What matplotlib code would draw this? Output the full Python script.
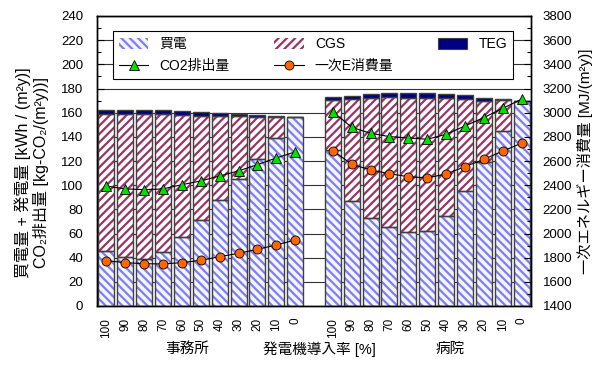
import matplotlib
matplotlib.use("Agg")
import matplotlib.pyplot as plt
import numpy as np
from matplotlib.ticker import MultipleLocator
from matplotlib.patches import Patch
from matplotlib.lines import Line2D
import matplotlib.transforms as mtransforms

plt.rcParams['font.family'] = ['Liberation Sans', 'Noto Sans CJK JP', 'DejaVu Sans']
plt.rcParams['hatch.linewidth'] = 1.6

# ---- data ----
rate_labels = ["100", "90", "80", "70", "60", "50", "40", "30", "20", "10", "0"]

office_buy = [45.5, 40.3, 39.2, 44.7, 56.9, 71.2, 87.7, 104.9, 122.0, 139.4, 156.2]
office_cgs = [113.3, 118.5, 119.6, 114.1, 101.0, 86.4, 69.3, 52.0, 34.6, 16.9, 0.0]
office_teg = [3.5, 3.5, 3.5, 3.5, 3.3, 3.0, 2.5, 2.3, 1.5, 1.0, 0.0]
office_co2 = [99.3, 96.9, 96.3, 96.9, 100.4, 103.5, 107.6, 111.8, 117.0, 122.5, 127.5]
office_energy = [1775, 1759, 1750, 1748, 1759, 1778, 1808, 1836, 1869, 1905, 1946]

hosp_buy = [129.1, 87.2, 72.6, 65.1, 61.0, 62.4, 74.8, 95.5, 119.5, 145.1, 170.0]
hosp_cgs = [41.5, 84.5, 99.7, 107.5, 111.3, 109.9, 97.2, 75.9, 50.5, 25.3, 0.0]
hosp_teg = [2.2, 2.5, 2.8, 3.3, 3.6, 3.6, 3.3, 3.0, 2.5, 1.0, 0.0]
hosp_co2 = [160.8, 147.9, 142.9, 140.2, 139.1, 138.0, 142.1, 149.0, 155.9, 163.6, 171.1]
hosp_energy = [2686, 2573, 2526, 2495, 2470, 2460, 2493, 2553, 2614, 2682, 2747]

# ---- style ----
c_buy = '#7f7fef'
c_cgs = '#993366'
c_teg = '#000080'
c_edge = '#404040'
width = 0.85

fig = plt.figure(figsize=(6.06, 3.65), dpi=100)
ax = fig.add_axes([97/606, 1-306/365, 434/606, 290/365])
ax2 = ax.twinx()

n = len(rate_labels)
x_off = np.arange(n)
x_hos = np.arange(n) + n + 1

def draw_group(xs, buy, cgs, teg):
    buy = np.array(buy); cgs = np.array(cgs); teg = np.array(teg)
    ax.bar(xs, buy, width, color='#f4f4ff', edgecolor=c_buy, hatch='\\\\\\\\', linewidth=0, zorder=2)
    ax.bar(xs, buy, width, fill=False, edgecolor=c_edge, linewidth=1.0, zorder=3)
    ax.bar(xs, cgs, width, bottom=buy, color='white', edgecolor=c_cgs, hatch='////', linewidth=0, zorder=2)
    ax.bar(xs, cgs, width, bottom=buy, fill=False, edgecolor=c_edge, linewidth=1.0, zorder=3)
    ax.bar(xs, teg, width, bottom=buy + cgs, color=c_teg, edgecolor=c_edge, linewidth=1.0, zorder=3)

draw_group(x_off, office_buy, office_cgs, office_teg)
draw_group(x_hos, hosp_buy, hosp_cgs, hosp_teg)

for xs, co2 in ((x_off, office_co2), (x_hos, hosp_co2)):
    ax.plot(xs, co2, color='black', lw=0.8, marker='^', markersize=7,
            markerfacecolor='#00e000', markeredgecolor='black', markeredgewidth=0.6, zorder=5)
for xs, en in ((x_off, office_energy), (x_hos, hosp_energy)):
    ax2.plot(xs, en, color='black', lw=0.8, marker='o', markersize=6.5,
             markerfacecolor='#ff6600', markeredgecolor='black', markeredgewidth=0.6, zorder=5)

# axes
ax.set_xlim(-0.5, 2*n + 0.5)
ax.set_ylim(0, 240)
ax2.set_ylim(1400, 3800)
ax.yaxis.set_major_locator(MultipleLocator(20))
ax.yaxis.set_minor_locator(MultipleLocator(10))
ax2.yaxis.set_major_locator(MultipleLocator(200))
ax2.yaxis.set_minor_locator(MultipleLocator(100))
ax.grid(axis='y', which='major', color='#333333', lw=0.8, zorder=0)
ax.set_axisbelow(True)

ax.set_xticks(list(x_off) + list(x_hos))
ax.set_xticklabels(rate_labels + rate_labels, rotation=90, fontsize=8.5)
ax.tick_params(axis='x', length=0, pad=8.5)
ax.tick_params(axis='y', which='major', direction='in', length=5, width=0.8, labelsize=9.5, pad=10)
ax.tick_params(axis='y', which='minor', direction='in', length=3, width=0.8)
ax2.tick_params(axis='y', which='major', direction='in', length=5, width=0.8, labelsize=9.5, pad=8.5)
ax2.tick_params(axis='y', which='minor', direction='in', length=3, width=0.8)
for a in (ax, ax2):
    for s in a.spines.values():
        s.set_linewidth(1.0)
        s.set_color('black')

ax.set_ylabel("買電量 + 発電量 [kWh / (m²y)]\nCO₂排出量 [kg-CO₂/(m²y))]",
              fontsize=11.5, linespacing=1.15)
ax.yaxis.set_label_coords(-0.11, 0.46)
ax2.set_ylabel("一次エネルギー消費量 [MJ/(m²y)]", fontsize=11, labelpad=3)

trans = mtransforms.blended_transform_factory(ax.transData, ax.transAxes)
ax.text(4.3, -0.148, "事務所", transform=trans, ha='center', va='center', fontsize=10.5)
ax.text(11.3, -0.148, "発電機導入率 [%]", transform=trans, ha='center', va='center', fontsize=10.5)
ax.text(18.2, -0.148, "病院", transform=trans, ha='center', va='center', fontsize=10.5)

handles = [
    Patch(facecolor='#f4f4ff', edgecolor=c_buy, hatch='\\\\\\\\', linewidth=0),
    Line2D([], [], color='black', lw=0.8, marker='^', markersize=7,
           markerfacecolor='#00e000', markeredgecolor='black', markeredgewidth=0.6),
    Patch(facecolor='white', edgecolor=c_cgs, hatch='////', linewidth=0),
    Line2D([], [], color='black', lw=0.8, marker='o', markersize=6.5,
           markerfacecolor='#ff6600', markeredgecolor='black', markeredgewidth=0.6),
    Patch(facecolor=c_teg, edgecolor=c_edge, linewidth=0.8),
]
labels = ["買電", "CO2排出量", "CGS", "一次E消費量", "TEG"]
leg = ax2.legend(handles, labels, ncol=3, mode='expand',
                 bbox_to_anchor=(0.037, 0.783, 0.922, 0.172), loc='lower left',
                 fontsize=10, frameon=True, fancybox=False, shadow=False,
                 handlelength=2.1, handleheight=0.8, borderpad=0.45, labelspacing=0.55,
                 borderaxespad=0)
leg.get_frame().set_edgecolor('black')
leg.get_frame().set_linewidth(0.8)
leg.get_frame().set_alpha(1)
leg.set_zorder(10)

fig.savefig("out.png", dpi=100)
